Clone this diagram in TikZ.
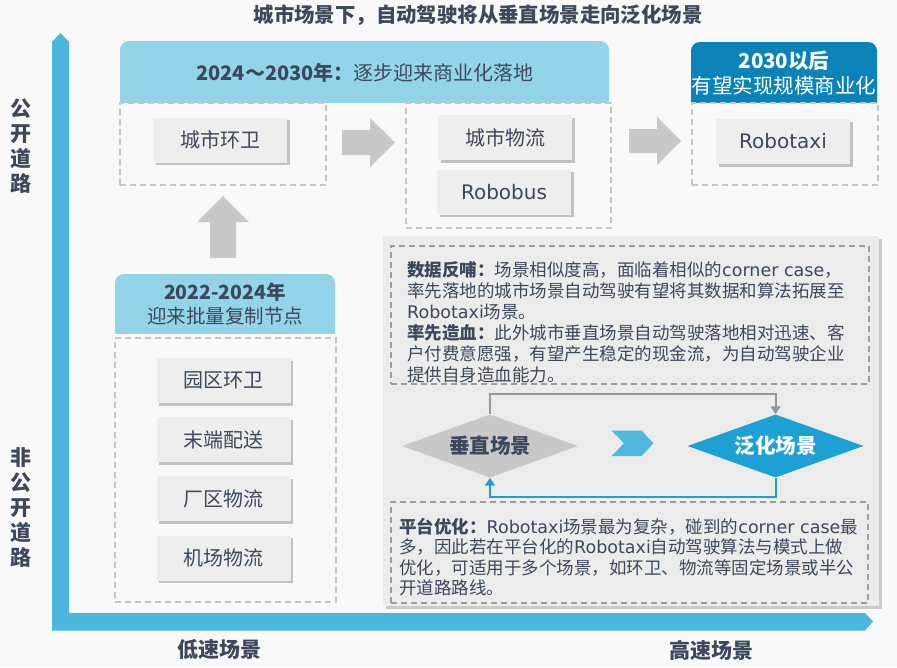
\documentclass[tikz,border=0pt]{standalone}
\usepackage{fontspec}
\setmainfont{Noto Sans CJK SC}
\newfontfamily\latfont{DejaVu Sans}
\newcommand{\lword}[1]{{\latfont #1}}
\usetikzlibrary{shapes.geometric,shadows,arrows.meta}

\definecolor{bgpage}{RGB}{249,249,249}
\definecolor{axisblue}{RGB}{77,182,220}
\definecolor{hdrlight}{RGB}{148,212,233}
\definecolor{hdrdark}{RGB}{12,131,184}
\definecolor{txtdark}{RGB}{60,72,92}
\definecolor{boxgray}{RGB}{238,238,238}
\definecolor{dashgray}{RGB}{198,198,198}
\definecolor{paneldash}{RGB}{158,158,158}
\definecolor{panelgray}{RGB}{236,236,236}
\definecolor{arrowgray}{RGB}{200,200,200}
\definecolor{diablue}{RGB}{29,160,211}
\definecolor{chevblue}{RGB}{80,184,220}
\definecolor{linkgray}{RGB}{152,152,152}

\begin{document}
\begin{tikzpicture}[x=1pt, y=-1pt, line cap=butt, line join=miter,
    scenebox/.style={fill=boxgray, minimum width=134pt, minimum height=45pt,
        inner sep=0pt, text=txtdark, font=\fontsize{20}{22}\selectfont,
        drop shadow={shadow xshift=2.5pt, shadow yshift=-2.5pt, fill=black, opacity=0.22}},
    groupbox/.style={draw=dashgray, line width=1.4pt, dash pattern=on 6pt off 4pt,
        inner sep=0pt},
    notebox/.style={draw=paneldash, line width=1.4pt, dash pattern=on 6pt off 4pt,
        inner sep=0pt},
    hdrtext/.style={text=txtdark, align=center, inner sep=0pt,
        font=\fontsize{19.5}{24}\selectfont},
    axislabel/.style={text=txtdark, align=center, inner sep=0pt,
        font=\bfseries\fontsize{21}{25}\selectfont},
    notetext/.style={text=txtdark, align=left, inner sep=0pt, anchor=north west},
    scenedia/.style={diamond, shape aspect=2.8, inner sep=0pt,
        minimum width=176pt, minimum height=63pt,
        font=\bfseries\fontsize{20.5}{22}\selectfont},
    blockarrow/.style={fill=arrowgray}
]

% Page and bounding box
\fill[bgpage] (0,0) rectangle (897,667);
\useasboundingbox (0,0) rectangle (897,667);

% Title
\node[text=txtdark, font=\bfseries\fontsize{20.4}{22}\selectfont] (title) at (478,15)
    {城市场景下，自动驾驶将从垂直场景走向泛化场景};

% Axes
\fill[axisblue] (52,42) -- (60.5,33) -- (69,42) -- (69,613) -- (865,613)
    -- (873,621.5) -- (865,630.5) -- (52,630.5) -- cycle;
\node[axislabel] (ylabA) at (21,146.5) {公\\开\\道\\路};
\node[axislabel] (ylabB) at (21,507.5) {非\\公\\开\\道\\路};
\node[axislabel] (xlabA) at (219,650) {低速场景};
\node[axislabel] (xlabB) at (711,650) {高速场景};

% Headers
\begin{scope}
  \clip (120,41) rectangle (609,102);
  \fill[hdrlight, rounded corners=9pt] (120,41) rectangle (609,120);
\end{scope}
\node[hdrtext, font=\fontsize{20}{24}\selectfont] (hdrA) at (365,73)
    {\textbf{2024～2030年：}逐步迎来商业化落地};

\begin{scope}
  \clip (691,42) rectangle (877,102);
  \fill[hdrdark, rounded corners=9pt] (691,42) rectangle (877,120);
\end{scope}
\node[hdrtext, text=white, font=\fontsize{20.5}{25}\selectfont] (hdrC) at (784,73)
    {\textbf{2030以后}\\有望实现规模商业化};

\begin{scope}
  \clip (115,274) rectangle (335,333);
  \fill[hdrlight, rounded corners=9pt] (115,274) rectangle (335,350);
\end{scope}
\node[hdrtext] (hdrD) at (225,304) {\textbf{2022-2024年}\\迎来批量复制节点};

% Dashed groups
\node[groupbox, minimum width=206pt, minimum height=82pt] (grpA) at (223,144) {};
\node[groupbox, minimum width=205pt, minimum height=125pt] (grpB) at (508.5,165.5) {};
\node[groupbox, minimum width=186pt, minimum height=82pt] (grpC) at (785,144) {};
\node[groupbox, minimum width=221pt, minimum height=264pt] (grpD) at (225.5,470) {};

% Scene boxes
\node[scenebox] (sanA) at (220,140) {城市环卫};
\node[scenebox] (logB) at (505,137.5) {城市物流};
\node[scenebox] (busB) at (504,192) {\lword{Robobus}};
\node[scenebox] (taxiC) at (783,141.5) {\lword{Robotaxi}};
\node[scenebox] (parkD) at (223.5,380.5) {园区环卫};
\node[scenebox] (lastD) at (223.5,439.5) {末端配送};
\node[scenebox] (factD) at (223.5,498.5) {厂区物流};
\node[scenebox] (airD) at (223.5,558) {机场物流};

% Block arrows
\fill[blockarrow] (342,130) -- (370,130) -- (370,118) -- (395,142.5) -- (370,167)
    -- (370,155) -- (342,155) -- cycle;
\fill[blockarrow] (629,129) -- (657,129) -- (657,117) -- (681,141) -- (657,165)
    -- (657,153) -- (629,153) -- cycle;
\fill[blockarrow] (210,258) -- (210,222) -- (197,222) -- (223,196) -- (249,222)
    -- (236,222) -- (236,258) -- cycle;

% Panel
\node[fill=panelgray, minimum width=496pt, minimum height=370pt, inner sep=0pt,
    drop shadow={shadow xshift=3pt, shadow yshift=-3pt, fill=black, opacity=0.18}]
    (panel) at (631,421) {};
\node[notebox, minimum width=478pt, minimum height=138pt] (noteA) at (630,315) {};
\node[notebox, minimum width=477pt, minimum height=101pt] (noteB) at (629.5,552.5) {};

\node[notetext, font=\fontsize{17.5}{21}\selectfont] (textA) at (407,261)
    {\textbf{数据反哺：}场景相似度高，面临着相似的\lword{corner case}，\\
     率先落地的城市场景自动驾驶有望将其数据和算法拓展至\\
     \lword{Robotaxi}场景。\\
     \textbf{率先造血：}此外城市垂直场景自动驾驶落地相对迅速、客\\
     户付费意愿强，有望产生稳定的现金流，为自动驾驶企业\\
     提供自身造血能力。};
\node[notetext, font=\fontsize{17.5}{20.4}\selectfont] (textB) at (399,518)
    {\textbf{平台优化：}\lword{Robotaxi}场景最为复杂，碰到的\lword{corner case}最\\
     多，因此若在平台化的\lword{Robotaxi}自动驾驶算法与模式上做\\
     优化，可适用于多个场景，如环卫、物流等固定场景或半公\\
     开道路路线。};

% Diamonds
\node[scenedia, fill=arrowgray, text=txtdark] (diaV) at (490,446) {垂直场景};
\node[scenedia, fill=diablue, text=white] (diaG) at (775.5,446) {泛化场景};
\fill[chevblue] (611.7,430.7) -- (641.7,430.7) -- (653.3,443.3) -- (641.7,456)
    -- (611.7,456) -- (624,443.3) -- cycle;

% Feedback links
\draw[linkgray, line width=2pt, -{Triangle[length=8pt, width=10pt]}]
    (diaV.north) -- ++(0,-20) -| (diaG.north);
\draw[diablue, line width=2pt, -{Triangle[length=8pt, width=10pt]}]
    (diaG.south) -- ++(0,19) -| (diaV.south);

\end{tikzpicture}
\end{document}
